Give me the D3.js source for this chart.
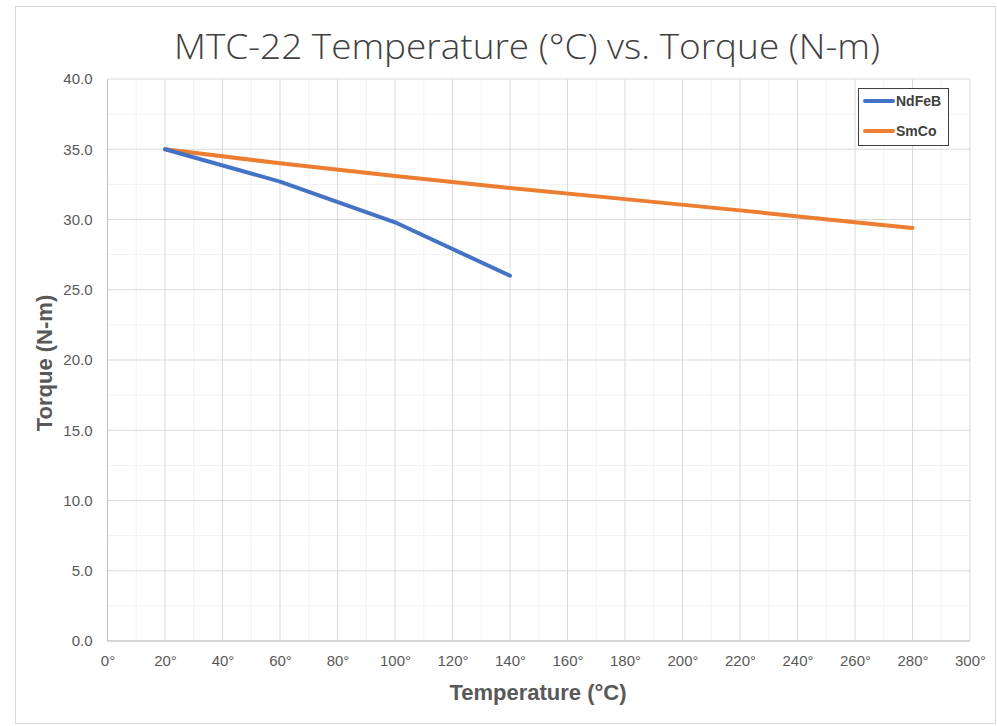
<!DOCTYPE html>
<html>
<head>
<meta charset="utf-8">
<script src="https://cdn.jsdelivr.net/npm/d3@7"></script>
<style>
  body { margin: 0; background: #fff; }
  svg text { font-family: "Liberation Sans", Arial, sans-serif; fill: #595959; }
</style>
</head>
<body>
<div id="chart"></div>
<script>
// dati
const ndfebTemp = [20, 60, 100, 140];
const ndfebTorque = [35.0, 32.7, 29.8, 26.0];
const smcoTemp = [20, 60, 100, 140, 180, 220, 260, 280];
const smcoTorque = [35.0, 34.0, 33.1, 32.25, 31.45, 30.65, 29.8, 29.4];
const xTicks = d3.range(0, 301, 20);
const yTicks = d3.range(0, 40.1, 5);

const width = 997, height = 726;
const x0 = 107.5, x1 = 970, y0 = 641, y1 = 79;

const svg = d3.select("#chart").append("svg")
  .attr("width", width).attr("height", height);

// cornice
svg.append("rect")
  .attr("x", 15.5).attr("y", 6.5).attr("width", 980).attr("height", 717)
  .attr("fill", "#fff").attr("stroke", "#d9d9d9");

const x = d3.scaleLinear().domain([0, 300]).range([x0, x1]);
const y = d3.scaleLinear().domain([0, 40]).range([y0, y1]);

// griglia secondaria
svg.append("g").selectAll("line").data(d3.range(10, 300, 20)).join("line")
  .attr("x1", d => x(d)).attr("x2", d => x(d)).attr("y1", y0).attr("y2", y1)
  .attr("stroke", "#f2f2f2");
svg.append("g").selectAll("line").data(d3.range(2.5, 40, 5)).join("line")
  .attr("y1", d => y(d)).attr("y2", d => y(d)).attr("x1", x0).attr("x2", x1)
  .attr("stroke", "#f2f2f2");

// griglia principale
svg.append("g").selectAll("line").data(xTicks).join("line")
  .attr("x1", d => x(d)).attr("x2", d => x(d)).attr("y1", y0).attr("y2", y1)
  .attr("stroke", "#d9d9d9");
svg.append("g").selectAll("line").data(yTicks).join("line")
  .attr("y1", d => y(d)).attr("y2", d => y(d)).attr("x1", x0).attr("x2", x1)
  .attr("stroke", "#d9d9d9");

// assi
svg.append("line").attr("x1", x0).attr("x2", x0).attr("y1", y0).attr("y2", y1).attr("stroke", "#bfbfbf");
svg.append("line").attr("x1", x0).attr("x2", x1).attr("y1", y0).attr("y2", y0).attr("stroke", "#bfbfbf");

const xAxis = svg.append("g").attr("transform", `translate(0,${y0})`)
  .call(d3.axisBottom(x).tickValues(xTicks).tickSize(0).tickPadding(14).tickFormat(d => d + "°"));
xAxis.select(".domain").remove();
xAxis.selectAll("text").attr("font-size", 15).style("fill", "#595959")
  .attr("font-family", "Liberation Sans, Arial, sans-serif");

const yAxis = svg.append("g").attr("transform", `translate(${x0},0)`)
  .call(d3.axisLeft(y).tickValues(yTicks).tickSize(0).tickPadding(15).tickFormat(d3.format(".1f")));
yAxis.select(".domain").remove();
yAxis.selectAll("text").attr("font-size", 15).style("fill", "#595959")
  .attr("font-family", "Liberation Sans, Arial, sans-serif");

// linee
const line = d3.line().x(d => x(d[0])).y(d => y(d[1]));
svg.append("path").datum(d3.zip(smcoTemp, smcoTorque))
  .attr("d", line).attr("fill", "none").attr("stroke", "#ED7D31")
  .attr("stroke-width", 4).attr("stroke-linecap", "round").attr("stroke-linejoin", "round");
svg.append("path").datum(d3.zip(ndfebTemp, ndfebTorque))
  .attr("d", line).attr("fill", "none").attr("stroke", "#4472C4")
  .attr("stroke-width", 4).attr("stroke-linecap", "round").attr("stroke-linejoin", "round");

// titoli
svg.append("text").attr("x", 527).attr("y", 59).attr("text-anchor", "middle")
  .attr("font-size", 35).attr("textLength", 706).attr("lengthAdjust", "spacingAndGlyphs")
  .style("font-family", "'Open Sans', sans-serif").style("font-weight", 300).style("fill", "#404040")
  .text("MTC-22 Temperature (°C) vs. Torque (N-m)");
svg.append("text").attr("x", 538).attr("y", 700).attr("text-anchor", "middle")
  .attr("font-size", 22).attr("font-weight", "bold").text("Temperature (°C)");
svg.append("text").attr("transform", "translate(52,363) rotate(-90)").attr("text-anchor", "middle")
  .attr("font-size", 22).attr("font-weight", "bold").text("Torque (N-m)");

// legenda
const legend = svg.append("g");
legend.append("rect").attr("x", 858.5).attr("y", 88.5).attr("width", 90).attr("height", 57)
  .attr("fill", "#fff").attr("stroke", "#404040");
const items = [["NdFeB", "#4472C4"], ["SmCo", "#ED7D31"]];
items.forEach(([name, col], i) => {
  const yy = 101 + i * 30;
  legend.append("line").attr("x1", 865).attr("x2", 893).attr("y1", yy).attr("y2", yy)
    .attr("stroke", col).attr("stroke-width", 4).attr("stroke-linecap", "round");
  legend.append("text").attr("x", 896).attr("y", yy + 5).attr("font-size", 14)
    .attr("font-weight", "bold").style("fill", "#404040").text(name);
});
</script>
</body>
</html>
